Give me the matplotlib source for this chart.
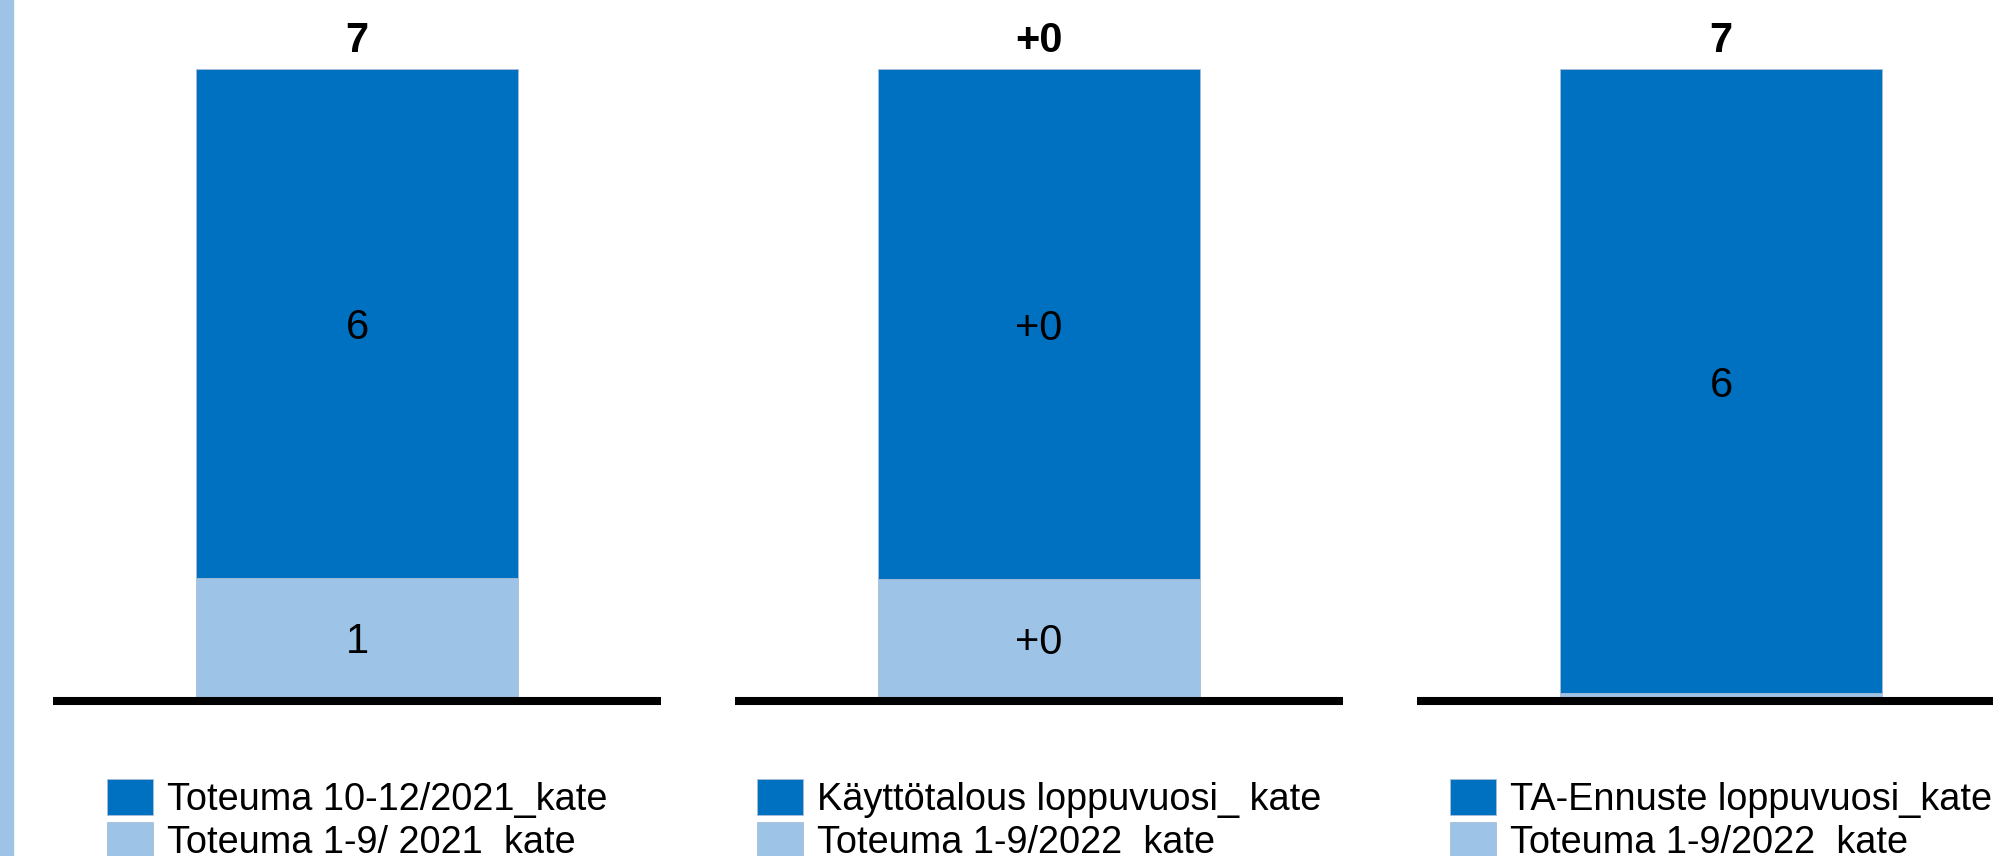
import matplotlib.pyplot as plt
from matplotlib.patches import Rectangle

plt.rcParams['font.family'] = ['Liberation Sans', 'DejaVu Sans']

# one panel per comparison, each with its own scale
top_labels = ["7", "+0", "7"]
dark_vals = [5.67, 0.26, 6.48]
light_vals = [1.33, 0.06, 0.04]
dark_labels = ["6", "+0", "6"]
light_labels = ["1", "+0", ""]
dark_names = ["Toteuma 10-12/2021_kate", "Käyttötalous loppuvuosi_ kate",
              "TA-Ennuste loppuvuosi_kate"]
light_names = ["Toteuma 1-9/ 2021_kate", "Toteuma 1-9/2022_kate",
               "Toteuma 1-9/2022_kate"]

dark = "#0070C0"
light = "#9DC3E6"

W, H = 1993, 856
fig = plt.figure(figsize=(W / 100, H / 100), dpi=100)

# light strip at left edge
fig.patches.append(Rectangle((0, 0), 13 / W, 1, transform=fig.transFigure,
                             color=light, zorder=0))

base = 697      # px from top where bars start
bar_top = 69    # px from top where bars end
for i in range(3):
    left = 53 + i * 682
    ax = fig.add_axes([left / W, (H - base) / H, 608 / W, base / H])
    total = dark_vals[i] + light_vals[i]
    b1 = ax.bar([0], [light_vals[i]], width=1.06, color=light,
                edgecolor="#A9BED6", linewidth=0.6)
    b2 = ax.bar([0], [dark_vals[i]], bottom=[light_vals[i]], width=1.06,
                color=dark, edgecolor="#A9BED6", linewidth=0.6)
    texts = ax.bar_label(b1, [light_labels[i]], label_type="center", fontsize=30)
    texts += ax.bar_label(b2, [dark_labels[i]], label_type="center", fontsize=30)
    for t in texts:
        t.set_va("center_baseline")
    ax.annotate(top_labels[i], xy=(0, total), xytext=(0, 12.2),
                textcoords="offset points", ha="center", va="baseline",
                fontsize=30, fontweight="bold")
    ax.set_xlim(-1, 1)
    ax.set_ylim(0, total * base / (base - bar_top))
    ax.set_xticks([])
    ax.set_yticks([])
    for s in ["top", "left", "right"]:
        ax.spines[s].set_visible(False)
    ax.spines["bottom"].set_linewidth(5.8)
    ax.spines["bottom"].set_capstyle("butt")
    ax.spines["bottom"].set_position(("outward", 2.9))
    ax.patch.set_visible(False)
    ax.legend([b2, b1], [dark_names[i], light_names[i]], loc="upper center",
              bbox_to_anchor=(0.5, (base - 779) / base), frameon=False,
              fontsize=27.3, handlelength=1.22, handleheight=1.08,
              handletextpad=0.35, labelspacing=0.12, borderpad=0,
              borderaxespad=0)

fig.savefig("out.png", dpi=100)
